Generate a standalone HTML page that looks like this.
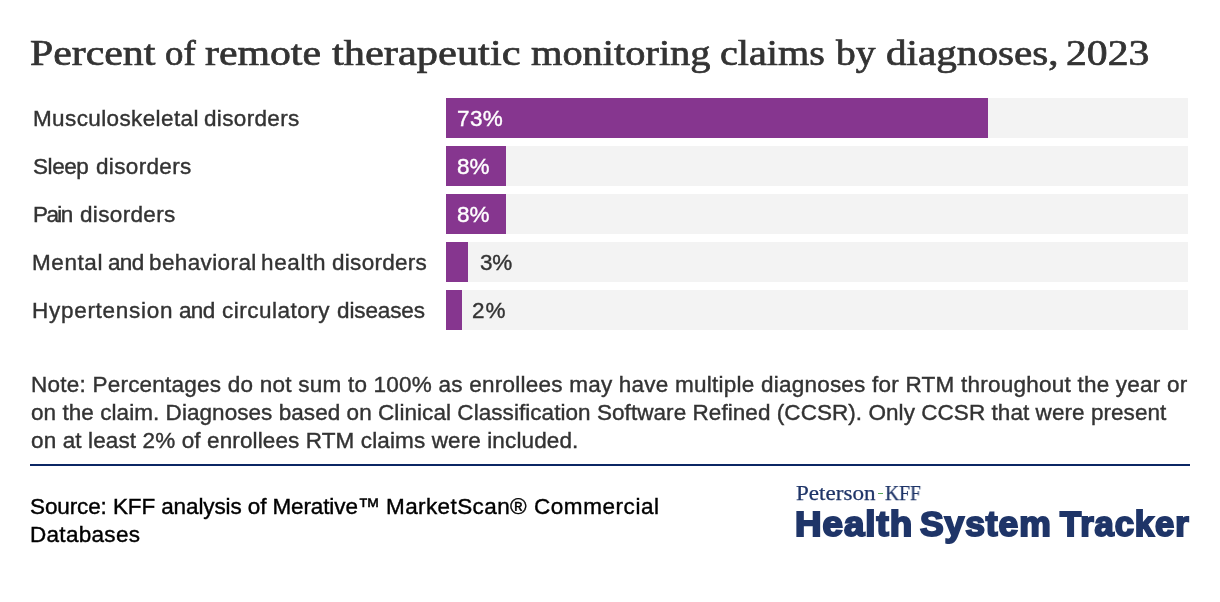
<!DOCTYPE html>
<html><head><meta charset="utf-8">
<style>
html,body{margin:0;padding:0;background:#fff;}
body{width:1220px;height:602px;position:relative;overflow:hidden;font-family:"Liberation Sans",sans-serif;}
.t,.bg,.bar,#rule{position:absolute;white-space:nowrap;}
.t{will-change:transform;}
.bg{left:446px;width:742px;height:40px;background:#f3f3f3;}
.bar{left:446px;height:40px;background:#86368f;}
#rule{left:30px;top:464px;width:1160px;height:2px;background:#0b2664;}
</style></head><body>
<div class="bg" style="top:98px"></div>
<div class="bg" style="top:146px"></div>
<div class="bg" style="top:194px"></div>
<div class="bg" style="top:242px"></div>
<div class="bg" style="top:290px"></div>
<div class="bar" style="top:98px;width:542px"></div>
<div class="bar" style="top:146px;width:60px"></div>
<div class="bar" style="top:194px;width:60px"></div>
<div class="bar" style="top:242px;width:22px"></div>
<div class="bar" style="top:290px;width:16px"></div>
<div id="rule"></div>
<div style="position:absolute;left:877.9px;top:492.6px;width:5.4px;height:1.9px;background:#5aa85a"></div>
<div class="t" style='left:30.25px;top:30.45px;font-family:"Liberation Serif", serif;font-size:36px;line-height:47px;color:#333333;letter-spacing:0.000px;transform:scaleX(1.1612);transform-origin:0 0;-webkit-text-stroke:0.7px #333333;'>Percent</div>
<div class="t" style='left:165.33px;top:30.45px;font-family:"Liberation Serif", serif;font-size:36px;line-height:47px;color:#333333;letter-spacing:0.000px;transform:scaleX(1.0236);transform-origin:0 0;-webkit-text-stroke:0.7px #333333;'>of</div>
<div class="t" style='left:204.71px;top:30.45px;font-family:"Liberation Serif", serif;font-size:36px;line-height:47px;color:#333333;letter-spacing:0.000px;transform:scaleX(1.1608);transform-origin:0 0;-webkit-text-stroke:0.7px #333333;'>remote</div>
<div class="t" style='left:331.91px;top:30.45px;font-family:"Liberation Serif", serif;font-size:36px;line-height:47px;color:#333333;letter-spacing:0.000px;transform:scaleX(1.1790);transform-origin:0 0;-webkit-text-stroke:0.7px #333333;'>therapeutic</div>
<div class="t" style='left:530.89px;top:30.45px;font-family:"Liberation Serif", serif;font-size:36px;line-height:47px;color:#333333;letter-spacing:0.000px;transform:scaleX(1.1220);transform-origin:0 0;-webkit-text-stroke:0.7px #333333;'>monitoring</div>
<div class="t" style='left:719.98px;top:30.45px;font-family:"Liberation Serif", serif;font-size:36px;line-height:47px;color:#333333;letter-spacing:0.000px;transform:scaleX(1.1148);transform-origin:0 0;-webkit-text-stroke:0.7px #333333;'>claims</div>
<div class="t" style='left:836.08px;top:30.45px;font-family:"Liberation Serif", serif;font-size:36px;line-height:47px;color:#333333;letter-spacing:0.000px;transform:scaleX(1.0981);transform-origin:0 0;-webkit-text-stroke:0.7px #333333;'>by</div>
<div class="t" style='left:885.76px;top:30.45px;font-family:"Liberation Serif", serif;font-size:36px;line-height:47px;color:#333333;letter-spacing:0.000px;transform:scaleX(1.1427);transform-origin:0 0;-webkit-text-stroke:0.7px #333333;'>diagnoses,</div>
<div class="t" style='left:1066.25px;top:30.45px;font-family:"Liberation Serif", serif;font-size:36px;line-height:47px;color:#333333;letter-spacing:0.000px;transform:scaleX(1.1584);transform-origin:0 0;-webkit-text-stroke:0.7px #333333;'>2023</div>
<div class="t" style='left:32.50px;top:103.70px;font-family:"Liberation Sans", sans-serif;font-size:22.5px;line-height:29px;color:#333333;letter-spacing:0.381px;-webkit-text-stroke:0.4px #333333;'>Musculoskeletal</div>
<div class="t" style='left:204.20px;top:103.70px;font-family:"Liberation Sans", sans-serif;font-size:22.5px;line-height:29px;color:#333333;letter-spacing:0.339px;-webkit-text-stroke:0.4px #333333;'>disorders</div>
<div class="t" style='left:32.50px;top:151.70px;font-family:"Liberation Sans", sans-serif;font-size:22.5px;line-height:29px;color:#333333;letter-spacing:-0.433px;-webkit-text-stroke:0.4px #333333;'>Sleep</div>
<div class="t" style='left:95.80px;top:151.70px;font-family:"Liberation Sans", sans-serif;font-size:22.5px;line-height:29px;color:#333333;letter-spacing:0.339px;-webkit-text-stroke:0.4px #333333;'>disorders</div>
<div class="t" style='left:32.50px;top:199.70px;font-family:"Liberation Sans", sans-serif;font-size:22.5px;line-height:29px;color:#333333;letter-spacing:-1.573px;-webkit-text-stroke:0.4px #333333;'>Pain</div>
<div class="t" style='left:80.20px;top:199.70px;font-family:"Liberation Sans", sans-serif;font-size:22.5px;line-height:29px;color:#333333;letter-spacing:0.339px;-webkit-text-stroke:0.4px #333333;'>disorders</div>
<div class="t" style='left:32.40px;top:247.70px;font-family:"Liberation Sans", sans-serif;font-size:22.5px;line-height:29px;color:#333333;letter-spacing:0.573px;-webkit-text-stroke:0.4px #333333;'>Mental</div>
<div class="t" style='left:108.00px;top:247.70px;font-family:"Liberation Sans", sans-serif;font-size:22.5px;line-height:29px;color:#333333;letter-spacing:-0.663px;-webkit-text-stroke:0.4px #333333;'>and</div>
<div class="t" style='left:149.20px;top:247.70px;font-family:"Liberation Sans", sans-serif;font-size:22.5px;line-height:29px;color:#333333;letter-spacing:0.386px;-webkit-text-stroke:0.4px #333333;'>behavioral</div>
<div class="t" style='left:261.10px;top:247.70px;font-family:"Liberation Sans", sans-serif;font-size:22.5px;line-height:29px;color:#333333;letter-spacing:0.662px;-webkit-text-stroke:0.4px #333333;'>health</div>
<div class="t" style='left:331.80px;top:247.70px;font-family:"Liberation Sans", sans-serif;font-size:22.5px;line-height:29px;color:#333333;letter-spacing:0.289px;-webkit-text-stroke:0.4px #333333;'>disorders</div>
<div class="t" style='left:32.40px;top:295.70px;font-family:"Liberation Sans", sans-serif;font-size:22.5px;line-height:29px;color:#333333;letter-spacing:0.713px;-webkit-text-stroke:0.4px #333333;'>Hypertension</div>
<div class="t" style='left:178.90px;top:295.70px;font-family:"Liberation Sans", sans-serif;font-size:22.5px;line-height:29px;color:#333333;letter-spacing:-0.663px;-webkit-text-stroke:0.4px #333333;'>and</div>
<div class="t" style='left:221.90px;top:295.70px;font-family:"Liberation Sans", sans-serif;font-size:22.5px;line-height:29px;color:#333333;letter-spacing:0.493px;-webkit-text-stroke:0.4px #333333;'>circulatory</div>
<div class="t" style='left:336.70px;top:295.70px;font-family:"Liberation Sans", sans-serif;font-size:22.5px;line-height:29px;color:#333333;letter-spacing:-0.122px;-webkit-text-stroke:0.4px #333333;'>diseases</div>
<div class="t" style='left:457.10px;top:103.70px;font-family:"Liberation Sans", sans-serif;font-size:22.5px;line-height:29px;color:#ffffff;letter-spacing:0.387px;-webkit-text-stroke:0.4px #ffffff;'>73%</div>
<div class="t" style='left:457.20px;top:151.70px;font-family:"Liberation Sans", sans-serif;font-size:22.5px;line-height:29px;color:#ffffff;letter-spacing:-0.113px;-webkit-text-stroke:0.4px #ffffff;'>8%</div>
<div class="t" style='left:457.20px;top:199.70px;font-family:"Liberation Sans", sans-serif;font-size:22.5px;line-height:29px;color:#ffffff;letter-spacing:-0.113px;-webkit-text-stroke:0.4px #ffffff;'>8%</div>
<div class="t" style='left:480.20px;top:247.70px;font-family:"Liberation Sans", sans-serif;font-size:22.5px;line-height:29px;color:#333333;letter-spacing:-0.213px;-webkit-text-stroke:0.4px #333333;'>3%</div>
<div class="t" style='left:471.70px;top:295.70px;font-family:"Liberation Sans", sans-serif;font-size:22.5px;line-height:29px;color:#333333;letter-spacing:0.887px;-webkit-text-stroke:0.4px #333333;'>2%</div>
<div class="t" style='left:30.70px;top:369.70px;font-family:"Liberation Sans", sans-serif;font-size:22.5px;line-height:29px;color:#333333;letter-spacing:0.232px;-webkit-text-stroke:0.4px #333333;'>Note: Percentages do not sum to 100% as enrollees may have multiple diagnoses for RTM throughout the year or</div>
<div class="t" style='left:30.80px;top:397.70px;font-family:"Liberation Sans", sans-serif;font-size:22.5px;line-height:29px;color:#333333;letter-spacing:0.056px;-webkit-text-stroke:0.4px #333333;'>on the claim. Diagnoses based on Clinical Classification Software Refined (CCSR). Only CCSR that were present</div>
<div class="t" style='left:30.80px;top:425.70px;font-family:"Liberation Sans", sans-serif;font-size:22.5px;line-height:29px;color:#333333;letter-spacing:0.119px;-webkit-text-stroke:0.4px #333333;'>on at least 2% of enrollees RTM claims were included.</div>
<div class="t" style='left:30.00px;top:491.70px;font-family:"Liberation Sans", sans-serif;font-size:22.5px;line-height:29px;color:#000000;letter-spacing:-0.112px;-webkit-text-stroke:0.4px #000000;'>Source: KFF analysis of Merative™</div>
<div class="t" style='left:386.00px;top:491.70px;font-family:"Liberation Sans", sans-serif;font-size:22.5px;line-height:29px;color:#000000;letter-spacing:0.405px;-webkit-text-stroke:0.4px #000000;'>MarketScan®</div>
<div class="t" style='left:533.50px;top:491.70px;font-family:"Liberation Sans", sans-serif;font-size:22.5px;line-height:29px;color:#000000;letter-spacing:0.554px;-webkit-text-stroke:0.4px #000000;'>Commercial</div>
<div class="t" style='left:30.00px;top:519.70px;font-family:"Liberation Sans", sans-serif;font-size:22.5px;line-height:29px;color:#000000;letter-spacing:0.298px;-webkit-text-stroke:0.4px #000000;'>Databases</div>
<div class="t" style='left:796.34px;top:480.05px;font-family:"Liberation Serif", serif;font-size:20.6px;line-height:27px;color:#1f3568;letter-spacing:0.000px;transform:scaleX(1.1217);transform-origin:0 0;-webkit-text-stroke:0.25px #1f3568;'>Peterson</div>
<div class="t" style='left:885.12px;top:480.05px;font-family:"Liberation Serif", serif;font-size:20.6px;line-height:27px;color:#1f3568;letter-spacing:0.000px;transform:scaleX(0.9528);transform-origin:0 0;-webkit-text-stroke:0.25px #1f3568;'>KFF</div>
<div class="t" style='left:794.92px;top:501.75px;font-family:"Liberation Sans", sans-serif;font-size:34.2px;line-height:44px;color:#1f3568;letter-spacing:0.900px;font-weight:bold;transform:scaleX(1.0756);transform-origin:0 0;-webkit-text-stroke:2.0px #1f3568;'>Health</div>
<div class="t" style='left:920.44px;top:501.75px;font-family:"Liberation Sans", sans-serif;font-size:34.2px;line-height:44px;color:#1f3568;letter-spacing:0.900px;font-weight:bold;transform:scaleX(1.0369);transform-origin:0 0;-webkit-text-stroke:2.0px #1f3568;'>System</div>
<div class="t" style='left:1059.91px;top:501.75px;font-family:"Liberation Sans", sans-serif;font-size:34.2px;line-height:44px;color:#1f3568;letter-spacing:0.900px;font-weight:bold;transform:scaleX(1.0128);transform-origin:0 0;-webkit-text-stroke:2.0px #1f3568;'>Tracker</div>
</body></html>
